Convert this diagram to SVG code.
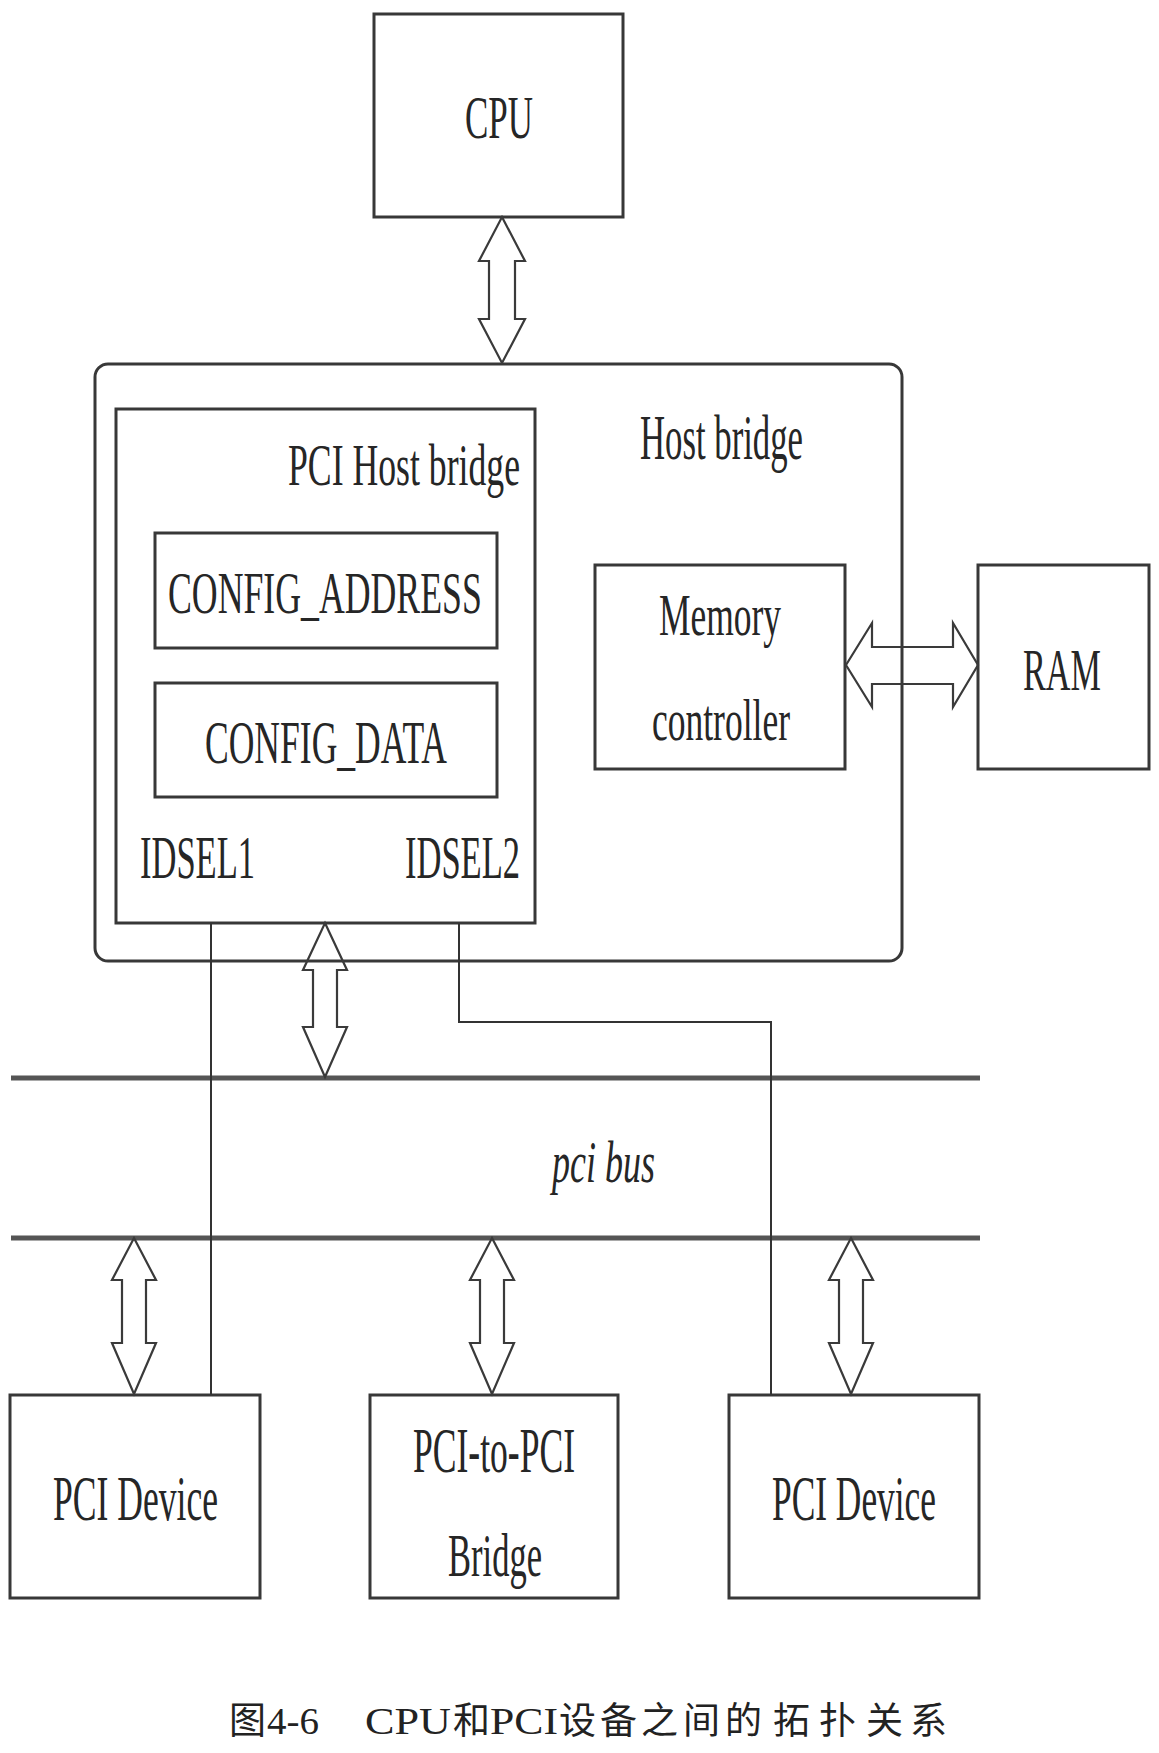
<svg xmlns="http://www.w3.org/2000/svg" width="1159" height="1753" viewBox="0 0 1159 1753">
<style>
.box{fill:none;stroke:#383838;stroke-width:3}
.lbl{font-family:"Liberation Serif","Times New Roman",serif;fill:#262626}
.arr{fill:none;stroke:#3a3a3a;stroke-width:2.2;stroke-linejoin:miter}
.bus{stroke:#555;stroke-width:5;fill:none}
.wire{stroke:#333;stroke-width:2;fill:none}
.cap{font-family:"Liberation Serif","Noto Sans CJK SC",serif;fill:#222;font-size:37px}
</style>
<rect width="1159" height="1753" fill="#fff"/>

<g id="cpu">
<rect class="box" x="374" y="14" width="249" height="203"/>
<text class="lbl" x="465" y="138" font-size="62" textLength="68" lengthAdjust="spacingAndGlyphs">CPU</text>
</g>

<g id="host-bridge">
<rect class="box" x="95" y="364" width="807" height="597" rx="13"/>
<text class="lbl" x="640" y="459" font-size="64" textLength="163" lengthAdjust="spacingAndGlyphs">Host bridge</text>
</g>

<g id="pci-host-bridge">
<rect class="box" x="116" y="409" width="419" height="514"/>
<text class="lbl" x="288" y="485" font-size="60" textLength="232" lengthAdjust="spacingAndGlyphs">PCI Host bridge</text>
<text class="lbl" x="140" y="878" font-size="62" textLength="115" lengthAdjust="spacingAndGlyphs">IDSEL1</text>
<text class="lbl" x="405" y="878" font-size="62" textLength="115" lengthAdjust="spacingAndGlyphs">IDSEL2</text>
</g>

<g id="config-address">
<rect class="box" x="155" y="533" width="342" height="115"/>
<text class="lbl" transform="translate(168,613) scale(0.6,1)" x="0" y="0" font-size="60" textLength="523" lengthAdjust="spacingAndGlyphs">CONFIG_ADDRESS</text>
</g>

<g id="config-data">
<rect class="box" x="155" y="683" width="342" height="114"/>
<text class="lbl" x="205" y="763" font-size="62" textLength="242" lengthAdjust="spacingAndGlyphs">CONFIG_DATA</text>
</g>

<g id="memory-controller">
<rect class="box" x="595" y="565" width="250" height="204"/>
<text class="lbl" x="659" y="635" font-size="60" textLength="122" lengthAdjust="spacingAndGlyphs">Memory</text>
<text class="lbl" x="652" y="740" font-size="60" textLength="138" lengthAdjust="spacingAndGlyphs">controller</text>
</g>

<g id="ram">
<rect class="box" x="978" y="565" width="171" height="204"/>
<text class="lbl" x="1023" y="690" font-size="60" textLength="78" lengthAdjust="spacingAndGlyphs">RAM</text>
</g>

<g id="pci-bus">
<line class="bus" x1="11" y1="1078" x2="980" y2="1078"/>
<line class="bus" x1="11" y1="1238" x2="980" y2="1238"/>
<text class="lbl" x="552" y="1182" font-size="60" font-style="italic" textLength="103" lengthAdjust="spacingAndGlyphs">pci bus</text>
</g>

<g id="pci-device-1">
<rect class="box" x="10" y="1395" width="250" height="203"/>
<text class="lbl" x="53" y="1520" font-size="63" textLength="165" lengthAdjust="spacingAndGlyphs">PCI Device</text>
</g>

<g id="pci-to-pci-bridge">
<rect class="box" x="370" y="1395" width="248" height="203"/>
<text class="lbl" x="413" y="1472" font-size="63" textLength="162" lengthAdjust="spacingAndGlyphs">PCI-to-PCI</text>
<text class="lbl" x="448" y="1576" font-size="62" textLength="94" lengthAdjust="spacingAndGlyphs">Bridge</text>
</g>

<g id="pci-device-2">
<rect class="box" x="729" y="1395" width="250" height="203"/>
<text class="lbl" x="772" y="1520" font-size="63" textLength="164" lengthAdjust="spacingAndGlyphs">PCI Device</text>
</g>

<g id="connectors">
<polyline class="wire" points="211,923 211,1395"/>
<polyline class="wire" points="459,923 459,1022 771,1022 771,1395"/>
<path class="arr" d="M502,217 L525,261 L515,261 L515,319 L525,319 L502,363 L479,319 L489,319 L489,261 L479,261 Z"/>
<path class="arr" d="M325,923 L347,970 L337,970 L337,1027 L347,1027 L325,1077 L303,1027 L313,1027 L313,970 L303,970 Z"/>
<path class="arr" d="M846,665 L872,623 L872,647 L953,647 L953,623 L978,665 L953,707 L953,684 L872,684 L872,707 Z"/>
<path class="arr" d="M134,1238 L156,1280 L146,1280 L146,1343 L156,1343 L134,1394 L112,1343 L122,1343 L122,1280 L112,1280 Z"/>
<path class="arr" d="M492,1238 L514,1280 L504,1280 L504,1343 L514,1343 L492,1394 L470,1343 L480,1343 L480,1280 L470,1280 Z"/>
<path class="arr" d="M851,1238 L873,1280 L863,1280 L863,1343 L873,1343 L851,1394 L829,1343 L839,1343 L839,1280 L829,1280 Z"/>
</g>

<g id="caption">
<text class="cap" y="1734"><tspan x="229">图</tspan><tspan x="267" textLength="52" lengthAdjust="spacingAndGlyphs">4-6</tspan><tspan x="365" textLength="86" lengthAdjust="spacingAndGlyphs">CPU</tspan><tspan x="453">和</tspan><tspan x="490" textLength="68" lengthAdjust="spacingAndGlyphs">PCI</tspan><tspan x="559">设</tspan><tspan x="600">备</tspan><tspan x="641">之</tspan><tspan x="683">间</tspan><tspan x="725">的</tspan><tspan x="773">拓</tspan><tspan x="819">扑</tspan><tspan x="866">关</tspan><tspan x="910">系</tspan></text>
</g>
</svg>
